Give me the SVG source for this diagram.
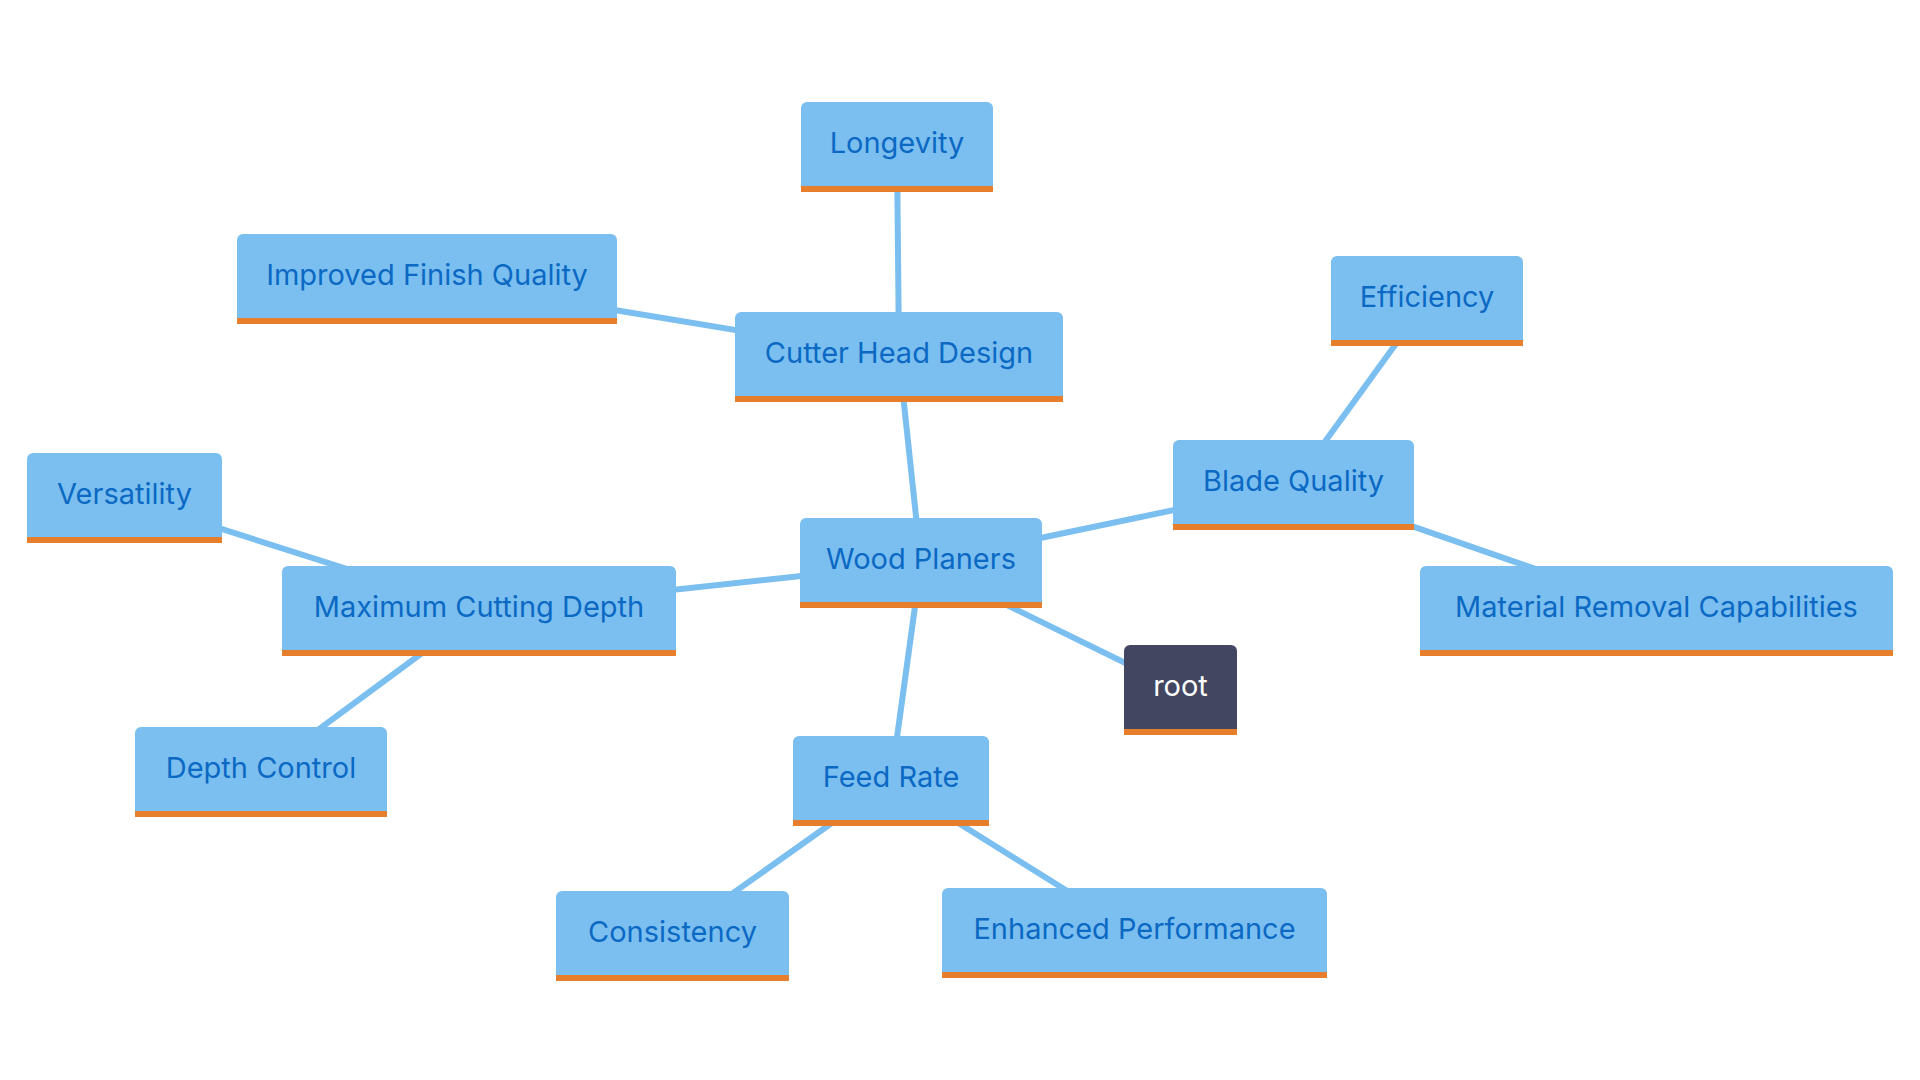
<svg xmlns="http://www.w3.org/2000/svg" width="1920" height="1080" viewBox="0 0 1920 1080">
<style>
.bg{fill:#ffffff}
.edge{stroke:#7bbff0;stroke-width:6;fill:none;stroke-linecap:butt}
.box{fill:#7bbff0}
.rootbox{fill:#424660}
.bar{fill:#e67e2c}
.lbl{font-family:Inter,"Noto Sans","Liberation Sans",sans-serif;font-size:29px;fill:#0b69c4;text-anchor:middle}
.rootlbl{font-family:Inter,"Noto Sans","Liberation Sans",sans-serif;font-size:29px;fill:#ffffff;text-anchor:middle}
</style>
<rect class="bg" x="0" y="0" width="1920" height="1080"/>
<g id="connectors">
<line class="edge" x1="921" y1="563" x2="899" y2="357"/>
<line class="edge" x1="921" y1="563" x2="1293.5" y2="485"/>
<line class="edge" x1="921" y1="563" x2="479" y2="611"/>
<line class="edge" x1="921" y1="563" x2="891" y2="781"/>
<line class="edge" x1="921" y1="563" x2="1180.5" y2="690"/>
<line class="edge" x1="899" y1="357" x2="897" y2="147"/>
<line class="edge" x1="899" y1="357" x2="427" y2="279"/>
<line class="edge" x1="1293.5" y1="485" x2="1427" y2="301"/>
<line class="edge" x1="1293.5" y1="485" x2="1656.5" y2="611"/>
<line class="edge" x1="479" y1="611" x2="124.5" y2="498"/>
<line class="edge" x1="479" y1="611" x2="261" y2="772"/>
<line class="edge" x1="891" y1="781" x2="672.5" y2="936"/>
<line class="edge" x1="891" y1="781" x2="1134.5" y2="933"/>
</g>
<g id="node-longevity" transform="translate(801,102)">
<rect class="box" width="192" height="90" rx="6"/><rect class="bar" y="84" width="192" height="6"/>
<text class="lbl" x="96" y="51">Longevity</text>
</g>
<g id="node-improved-finish-quality" transform="translate(237,234)">
<rect class="box" width="380" height="90" rx="6"/><rect class="bar" y="84" width="380" height="6"/>
<text class="lbl" x="190" y="51">Improved Finish Quality</text>
</g>
<g id="node-cutter-head-design" transform="translate(735,312)">
<rect class="box" width="328" height="90" rx="6"/><rect class="bar" y="84" width="328" height="6"/>
<text class="lbl" x="164" y="51">Cutter Head Design</text>
</g>
<g id="node-efficiency" transform="translate(1331,256)">
<rect class="box" width="192" height="90" rx="6"/><rect class="bar" y="84" width="192" height="6"/>
<text class="lbl" x="96" y="51">Efficiency</text>
</g>
<g id="node-blade-quality" transform="translate(1173,440)">
<rect class="box" width="241" height="90" rx="6"/><rect class="bar" y="84" width="241" height="6"/>
<text class="lbl" x="120.5" y="51">Blade Quality</text>
</g>
<g id="node-versatility" transform="translate(27,453)">
<rect class="box" width="195" height="90" rx="6"/><rect class="bar" y="84" width="195" height="6"/>
<text class="lbl" x="97.5" y="51">Versatility</text>
</g>
<g id="node-maximum-cutting-depth" transform="translate(282,566)">
<rect class="box" width="394" height="90" rx="6"/><rect class="bar" y="84" width="394" height="6"/>
<text class="lbl" x="197" y="51">Maximum Cutting Depth</text>
</g>
<g id="node-wood-planers" transform="translate(800,518)">
<rect class="box" width="242" height="90" rx="6"/><rect class="bar" y="84" width="242" height="6"/>
<text class="lbl" x="121" y="51">Wood Planers</text>
</g>
<g id="node-material-removal" transform="translate(1420,566)">
<rect class="box" width="473" height="90" rx="6"/><rect class="bar" y="84" width="473" height="6"/>
<text class="lbl" x="236.5" y="51">Material Removal Capabilities</text>
</g>
<g id="node-root" transform="translate(1124,645)">
<rect class="rootbox" width="113" height="90" rx="6"/><rect class="bar" y="84" width="113" height="6"/>
<text class="rootlbl" x="56.5" y="51">root</text>
</g>
<g id="node-depth-control" transform="translate(135,727)">
<rect class="box" width="252" height="90" rx="6"/><rect class="bar" y="84" width="252" height="6"/>
<text class="lbl" x="126" y="51">Depth Control</text>
</g>
<g id="node-feed-rate" transform="translate(793,736)">
<rect class="box" width="196" height="90" rx="6"/><rect class="bar" y="84" width="196" height="6"/>
<text class="lbl" x="98" y="51">Feed Rate</text>
</g>
<g id="node-consistency" transform="translate(556,891)">
<rect class="box" width="233" height="90" rx="6"/><rect class="bar" y="84" width="233" height="6"/>
<text class="lbl" x="116.5" y="51">Consistency</text>
</g>
<g id="node-enhanced-performance" transform="translate(942,888)">
<rect class="box" width="385" height="90" rx="6"/><rect class="bar" y="84" width="385" height="6"/>
<text class="lbl" x="192.5" y="51">Enhanced Performance</text>
</g>
</svg>
